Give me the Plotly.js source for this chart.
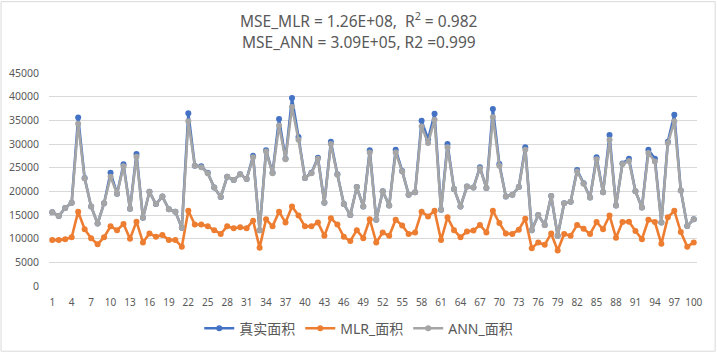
<!DOCTYPE html>
<html>
<head>
<meta charset="utf-8">
<script src="https://cdn.plot.ly/plotly-3.0.1.min.js"></script>
<style>html,body{margin:0;padding:0;background:#fff;}#chart{width:717px;height:353px;}</style>
</head>
<body>
<div id="chart"></div>
<script>
const seriesNames = ["真实面积", "MLR_面积", "ANN_面积"];
const titleLines = ["MSE_MLR = 1.26E+08,  R<sup>2</sup> = 0.982", "MSE_ANN = 3.09E+05, R2 =0.999"];
const sampleIndex = Array.from({length: 100}, (_, i) => i + 1);
const xTickVals = [1,4,7,10,13,16,19,22,25,28,31,34,37,40,43,46,49,52,55,58,61,64,67,70,73,76,79,82,85,88,91,94,97,100];

const trueArea = [15600,14800,16500,17600,35600,22800,16800,13200,17500,23900,19500,25700,16300,27900,14400,19900,17300,18900,16200,15700,12300,36500,25400,25300,23900,20800,18800,23100,22400,23600,22600,27500,11800,28700,23900,35300,26900,39700,31500,22800,23900,27100,17600,30500,23600,17300,15000,20900,16800,28700,14000,20000,17000,28800,24300,19300,19800,34900,31000,36400,16100,30000,20500,16800,21000,20800,25100,20700,37400,25800,18900,19300,20900,29300,11800,15000,12900,19000,10600,17500,17800,24500,21700,18700,27200,19800,31900,17000,25900,26900,20000,16600,28800,26900,13400,30500,36200,20200,12700,14100];

const mlrArea = [9700,9700,9900,10300,15700,12000,10100,8800,10300,12600,11800,13100,10000,13600,9200,11100,10400,10800,9700,9700,8300,15900,13000,13000,12600,11800,11000,12600,12200,12400,12200,13800,8100,14100,12600,15700,13400,16800,14900,12600,12600,13400,10600,14300,13000,10400,9500,11800,10100,14100,9200,11300,10600,14000,12800,11000,11300,15700,14700,15900,9700,14500,11800,10300,11500,11700,12900,11300,15900,13300,11100,11000,11900,14200,8000,9200,8700,11100,7500,11000,10600,12900,12100,11000,13500,12000,14900,10200,13500,13600,11600,9900,14000,13500,8900,14500,15900,11400,8300,9200];

const annArea = [15600,14800,16500,17600,34300,22700,16800,13200,17500,23100,19500,25300,16300,27300,14400,19900,17300,18900,16200,15700,12300,34800,25400,25100,23800,20800,18800,23100,22400,23600,22600,27200,11800,28400,23800,33900,26800,37800,30900,22800,23800,26900,17600,30000,23500,17300,15000,20900,16800,28200,14000,20000,17000,28200,24200,19300,19800,33700,30200,35100,16100,29300,20500,16800,21000,20800,24900,20700,35700,25400,18900,19300,20900,28800,11800,15000,12900,19000,10600,17500,17800,24200,21600,18700,26800,19800,30900,17000,25800,26400,20000,16600,28100,26300,13400,30200,34800,20200,12700,14100];

const colors = ["#4472C4", "#ED7D31", "#A5A5A5"];
const dataSets = [trueArea, mlrArea, annArea];
const fontFam = "'Noto Sans', 'Noto Sans CJK SC', sans-serif";

const traces = dataSets.map((d, i) => ({
  x: sampleIndex, y: d, name: seriesNames[i], type: 'scatter', mode: 'lines+markers',
  line: {color: colors[i], width: 2.6},
  marker: {color: colors[i], size: 6}
}));

const layout = {
  width: 717, height: 353,
  margin: {l: 49, r: 20, t: 73, b: 67, autoexpand: false},
  paper_bgcolor: '#fff', plot_bgcolor: '#fff',
  font: {family: fontFam, color: '#595959'},
  annotations: [
    {text: titleLines[0], xref: 'paper', yref: 'paper', x: 0.478, y: 1.249, xanchor: 'center', yanchor: 'middle',
     showarrow: false, font: {family: fontFam, size: 15.5, color: '#595959'}},
    {text: titleLines[1], xref: 'paper', yref: 'paper', x: 0.478, y: 1.146, xanchor: 'center', yanchor: 'middle',
     showarrow: false, font: {family: fontFam, size: 15.5, color: '#595959'}}
  ],
  xaxis: {
    range: [0.5, 100.5], tickmode: 'array', tickvals: xTickVals,
    showgrid: false, zeroline: false, showline: false, ticks: '',
    ticklabelstandoff: 9, automargin: false,
    tickfont: {size: 10, color: '#595959'}
  },
  yaxis: {
    range: [0, 45000], dtick: 5000, tickformat: 'd',
    showgrid: true, gridcolor: '#D9D9D9', gridwidth: 1, zeroline: false,
    ticks: '', ticklen: 0, ticklabelstandoff: 9, automargin: false,
    tickfont: {size: 10.5, color: '#595959'}
  },
  showlegend: true,
  legend: {
    orientation: 'h', x: 0.478, xanchor: 'center', y: -0.2, yanchor: 'middle',
    font: {size: 14, color: '#595959'}, itemwidth: 30, traceorder: 'normal'
  },
  shapes: [{
    type: 'rect', xref: 'paper', yref: 'paper', x0: -0.074, x1: 1.028, y0: -0.306, y1: 1.335,
    line: {color: '#D9D9D9', width: 1}
  }]
};

Plotly.newPlot('chart', traces, layout, {displayModeBar: false, staticPlot: true});
</script>
</body>
</html>
